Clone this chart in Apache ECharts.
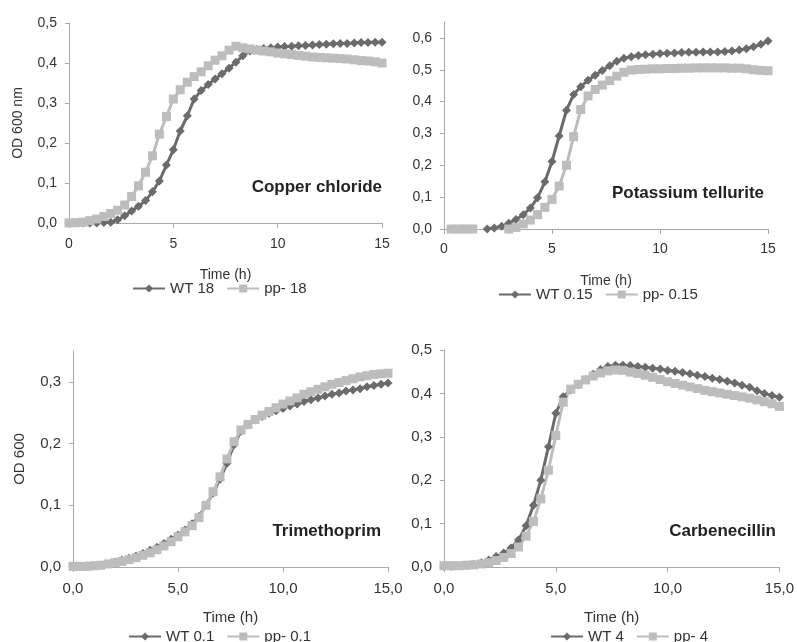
<!DOCTYPE html>
<html>
<head>
<meta charset="utf-8">
<script src="https://cdn.jsdelivr.net/npm/echarts@6/dist/echarts.min.js"></script>
<style>
  html, body { margin: 0; padding: 0; background: #fff; }
  #main { width: 797px; height: 642px; }
</style>
</head>
<body>
<div id="main"></div>
<script>
// sampling times (h), one reading every 20 min
const time = [0, 0.33, 0.67, 1, 1.33, 1.67, 2, 2.33, 2.67, 3, 3.33, 3.67, 4, 4.33, 4.67, 5,
  5.33, 5.67, 6, 6.33, 6.67, 7, 7.33, 7.67, 8, 8.33, 8.67, 9, 9.33, 9.67, 10,
  10.33, 10.67, 11, 11.33, 11.67, 12, 12.33, 12.67, 13, 13.33, 13.67, 14, 14.33, 14.67, 15];

// Copper chloride
const copperWT = [0, 0, 0, 0, 0, 0.001, 0.002, 0.008, 0.018, 0.03, 0.042, 0.056, 0.078, 0.105, 0.145, 0.183,
  0.23, 0.268, 0.31, 0.331, 0.346, 0.36, 0.373, 0.387, 0.402, 0.418, 0.43, 0.434, 0.436, 0.438, 0.44,
  0.441, 0.442, 0.443, 0.444, 0.445, 0.446, 0.447, 0.448, 0.449, 0.449, 0.45, 0.451, 0.451, 0.452, 0.452];
const copperPP = [0, 0.001, 0.002, 0.006, 0.01, 0.016, 0.024, 0.032, 0.045, 0.066, 0.093, 0.127, 0.168, 0.222, 0.266, 0.31,
  0.333, 0.352, 0.366, 0.378, 0.393, 0.407, 0.418, 0.432, 0.442, 0.438, 0.435, 0.432, 0.43, 0.428, 0.425,
  0.423, 0.421, 0.419, 0.417, 0.415, 0.414, 0.413, 0.412, 0.411, 0.41, 0.408, 0.406, 0.405, 0.403, 0.4];

// Potassium tellurite (empty cells are gaps)
const telluriteWT = [null, null, null, null, null, null, 0, 0.003, 0.009, 0.018, 0.03, 0.045, 0.066, 0.098, 0.148, 0.212,
  0.292, 0.373, 0.422, 0.447, 0.467, 0.483, 0.498, 0.513, 0.527, 0.536, 0.541, 0.545, 0.547, 0.549, 0.551,
  0.552, 0.553, 0.554, 0.555, 0.555, 0.556, 0.556, 0.556, 0.557, 0.559, 0.562, 0.566, 0.572, 0.58, 0.59];
const telluritePP = [null, 0, 0, 0, 0, null, null, null, null, 0, 0.005, 0.016, 0.028, 0.045, 0.068, 0.093,
  0.135, 0.2, 0.29, 0.375, 0.418, 0.438, 0.452, 0.466, 0.48, 0.492, 0.499, 0.501, 0.502, 0.503, 0.503,
  0.504, 0.504, 0.505, 0.505, 0.506, 0.506, 0.506, 0.506, 0.506, 0.505, 0.505, 0.503, 0.5, 0.498, 0.497];

// Trimethoprim
const trimWT = [0.001, 0.001, 0.002, 0.002, 0.003, 0.005, 0.008, 0.011, 0.014, 0.018, 0.022, 0.027, 0.032, 0.038, 0.045, 0.052,
  0.06, 0.07, 0.082, 0.1, 0.12, 0.142, 0.168, 0.198, 0.22, 0.23, 0.238, 0.244, 0.249, 0.253, 0.257,
  0.261, 0.264, 0.268, 0.271, 0.274, 0.277, 0.28, 0.282, 0.285, 0.287, 0.289, 0.292, 0.294, 0.296, 0.298];
const trimPP = [0.001, 0.001, 0.001, 0.002, 0.003, 0.005, 0.007, 0.009, 0.012, 0.015, 0.019, 0.023, 0.028, 0.034, 0.041, 0.049,
  0.057, 0.067, 0.08, 0.1, 0.122, 0.146, 0.175, 0.203, 0.222, 0.231, 0.239, 0.246, 0.252, 0.258, 0.264,
  0.269, 0.274, 0.28, 0.284, 0.288, 0.292, 0.296, 0.299, 0.302, 0.305, 0.308, 0.31, 0.312, 0.313, 0.314];

// Carbenecillin
const carbWT = [0.002, 0.002, 0.003, 0.004, 0.006, 0.01, 0.016, 0.024, 0.032, 0.044, 0.062, 0.095, 0.142, 0.2, 0.277, 0.354,
  0.392, 0.408, 0.42, 0.432, 0.444, 0.455, 0.462, 0.465, 0.465, 0.464, 0.462, 0.46, 0.458, 0.456, 0.453,
  0.451, 0.448, 0.445, 0.442, 0.439, 0.435, 0.432, 0.428, 0.424, 0.419, 0.414, 0.406, 0.4, 0.395, 0.391];
const carbPP = [0.003, 0.003, 0.003, 0.004, 0.005, 0.007, 0.01, 0.015, 0.022, 0.031, 0.046, 0.071, 0.105, 0.157, 0.223, 0.303,
  0.38, 0.41, 0.421, 0.431, 0.44, 0.447, 0.452, 0.454, 0.453, 0.449, 0.446, 0.442, 0.437, 0.432, 0.427,
  0.423, 0.419, 0.415, 0.411, 0.407, 0.404, 0.401, 0.398, 0.395, 0.392, 0.389, 0.385, 0.381, 0.376, 0.37];

const panelNames = ['Copper chloride', 'Potassium tellurite', 'Trimethoprim', 'Carbenecillin'];
const legendWT = ['WT 18', 'WT 0.15', 'WT 0.1', 'WT 4'];
const legendPP = ['pp- 18', 'pp- 0.15', 'pp- 0.1', 'pp- 4'];
const yTicks2 = [0, 0.1, 0.2, 0.3, 0.4, 0.5, 0.6];
const yTicks3 = [0, 0.1, 0.2, 0.3];

const wtColor = '#6b6b6b';
const ppColor = '#bdbdbd';
const axisColor = '#a9a9a9';
const textColor = '#333';
const font = 'Liberation Sans, Arial, sans-serif';

const comma = (d) => (v) => v.toFixed(d).replace('.', ',');

var chartDom = document.getElementById('main');
var myChart = echarts.init(chartDom, null, { renderer: 'canvas' });

// plot areas, in pixels
const grids = [
  { left: 69, top: 23, width: 313, height: 200 },
  { left: 444, top: 22, width: 324, height: 207 },
  { left: 73, top: 351, width: 315, height: 216 },
  { left: 444, top: 350, width: 337, height: 217 }
];
const fs = [14, 14, 15, 15];
const nameGaps = [45, 45, 43, 43];

function xAxisFor(i) {
  return {
    gridIndex: i, type: 'value', min: 0, max: 15, interval: 5,
    name: 'Time (h)', nameLocation: 'middle', nameGap: nameGaps[i],
    nameTextStyle: { color: textColor, fontSize: fs[i], fontFamily: font },
    axisLine: { show: true, onZero: false, lineStyle: { color: axisColor, width: 1 } },
    axisTick: { show: true, length: 5, lineStyle: { color: axisColor } },
    axisLabel: { color: textColor, fontSize: fs[i], fontFamily: font, margin: i === 1 ? 13 : 14,
      formatter: i < 2 ? comma(0) : comma(1) },
    splitLine: { show: false }
  };
}

function yAxisFor(i, max, ticks, name, gap) {
  const ax = {
    gridIndex: i, type: 'value', min: 0, max: max, interval: 0.1,
    axisLine: { show: true, lineStyle: { color: axisColor, width: 1 } },
    axisTick: { show: true, length: 4, lineStyle: { color: axisColor } },
    axisLabel: { color: textColor, fontSize: fs[i], fontFamily: font, margin: 12, formatter: comma(1) },
    splitLine: { show: false }
  };
  if (ticks) {
    ax.axisLabel.customValues = ticks;
    ax.axisTick.customValues = ticks;
  }
  if (name) {
    ax.name = name;
    ax.nameLocation = 'middle';
    ax.nameGap = gap;
    ax.nameTextStyle = { color: textColor, fontSize: fs[i], fontFamily: font };
  }
  return ax;
}

function pair(vals) {
  return time.map((t, k) => [t, vals[k]]);
}

const sets = [[copperWT, copperPP], [telluriteWT, telluritePP], [trimWT, trimPP], [carbWT, carbPP]];
const series = [];
sets.forEach((s, i) => {
  series.push({
    name: legendWT[i], type: 'line', xAxisIndex: i, yAxisIndex: i,
    data: pair(s[0]), connectNulls: false,
    symbol: 'diamond', symbolSize: 9, showAllSymbol: true,
    color: wtColor, lineStyle: { width: 3, color: wtColor },
    itemStyle: { color: wtColor }, animation: false
  });
  series.push({
    name: legendPP[i], type: 'line', xAxisIndex: i, yAxisIndex: i,
    data: pair(s[1]), connectNulls: false,
    symbol: 'rect', symbolSize: 9, showAllSymbol: true,
    color: ppColor, lineStyle: { width: 3, color: ppColor },
    itemStyle: { color: ppColor }, animation: false
  });
});

// legend and label placement per panel
const legendPos = [
  { left: 132, top: 281 }, { left: 498, top: 287 },
  { left: 128, top: 629 }, { left: 550, top: 629 }
];
const titlePos = [
  { right: 797 - 382, top: 179 }, { right: 797 - 764, top: 185 },
  { right: 797 - 381, top: 523 }, { right: 797 - 776, top: 523 }
];

var option = {
  backgroundColor: '#fff',
  animation: false,
  textStyle: { fontFamily: font },
  title: panelNames.map((n, i) => ({
    text: n, right: titlePos[i].right, top: titlePos[i].top, padding: 0,
    textStyle: { fontSize: 17, fontWeight: 'bold', color: '#222', fontFamily: font }
  })),
  grid: grids,
  legend: legendPos.map((p, i) => ({
    left: p.left, top: p.top, orient: 'horizontal',
    data: [legendWT[i], legendPP[i]],
    itemWidth: 32, itemHeight: 10, itemGap: 12, padding: 0,
    textStyle: { color: textColor, fontSize: 15, fontFamily: font },
    selectedMode: false
  })),
  xAxis: [0, 1, 2, 3].map(xAxisFor),
  yAxis: [
    yAxisFor(0, 0.5, null, 'OD 600 nm', 44),
    yAxisFor(1, 0.65, yTicks2),
    yAxisFor(2, 0.35, yTicks3, 'OD 600', 46),
    yAxisFor(3, 0.5, null)
  ],
  series: series
};

option && myChart.setOption(option);
</script>
</body>
</html>
